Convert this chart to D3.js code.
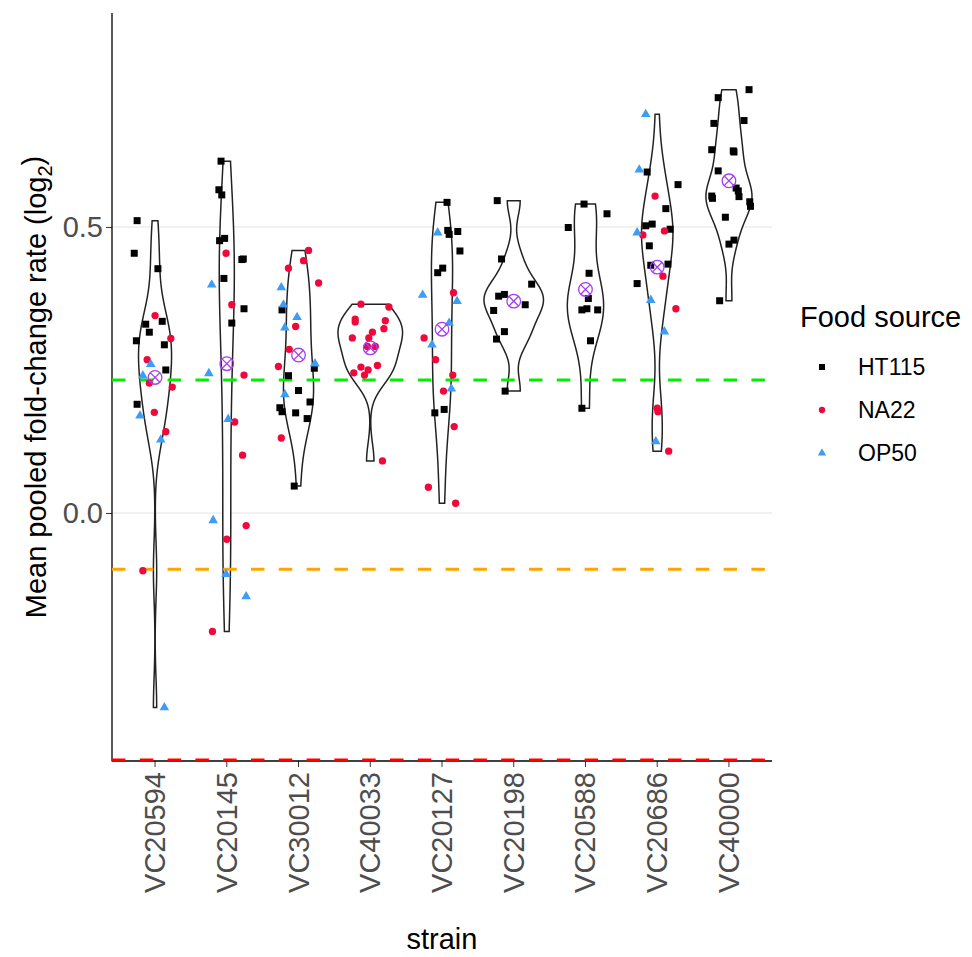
<!DOCTYPE html>
<html>
<head>
<meta charset="utf-8">
<script src="https://cdn.jsdelivr.net/npm/d3@7"></script>
<style>
  body { margin: 0; background: #fff; }
  svg { font-family: "Liberation Sans", Arial, sans-serif; }
</style>
</head>
<body>
<svg id="chart" width="972" height="957"></svg>
<script>
// strains in plotting order
var strains = ["VC20594", "VC20145", "VC30012", "VC40033", "VC20127",
               "VC20198", "VC20588", "VC20686", "VC40000"];
var foods = ["HT115", "NA22", "OP50"];

// [strain, log2 fold-change, horizontal jitter (fraction of band)]
var ht115Obs = [
  ["VC20594", 0.511, -0.25], ["VC20594", 0.454, -0.29], ["VC20594", 0.427, 0.04], ["VC20594", 0.330, -0.13],
  ["VC20594", 0.335, 0.10], ["VC20594", 0.316, -0.08], ["VC20594", 0.301, -0.26], ["VC20594", 0.294, 0.13],
  ["VC20594", 0.250, 0.15], ["VC20594", 0.190, -0.25],
  ["VC20145", 0.615, -0.08], ["VC20145", 0.565, -0.11], ["VC20145", 0.556, -0.07], ["VC20145", 0.476, -0.10],
  ["VC20145", 0.480, -0.03], ["VC20145", 0.443, 0.21], ["VC20145", 0.444, 0.23], ["VC20145", 0.410, -0.04],
  ["VC20145", 0.357, 0.24], ["VC20145", 0.332, 0.07],
  ["VC30012", 0.355, -0.23], ["VC30012", 0.253, 0.22], ["VC30012", 0.240, -0.14], ["VC30012", 0.214, 0.00],
  ["VC30012", 0.194, 0.16], ["VC30012", 0.184, -0.26], ["VC30012", 0.177, -0.23], ["VC30012", 0.175, -0.04],
  ["VC30012", 0.165, 0.12], ["VC30012", 0.047, -0.06],
  ["VC20127", 0.543, 0.07], ["VC20127", 0.494, 0.08], ["VC20127", 0.487, 0.10], ["VC20127", 0.492, 0.22],
  ["VC20127", 0.458, 0.25], ["VC20127", 0.428, 0.01], ["VC20127", 0.420, -0.06], ["VC20127", 0.181, 0.03],
  ["VC20127", 0.175, -0.10],
  ["VC20198", 0.546, -0.23], ["VC20198", 0.444, -0.17], ["VC20198", 0.400, 0.25], ["VC20198", 0.379, -0.21],
  ["VC20198", 0.382, -0.13], ["VC20198", 0.364, 0.16], ["VC20198", 0.354, -0.28], ["VC20198", 0.317, -0.13],
  ["VC20198", 0.304, -0.24], ["VC20198", 0.213, -0.12],
  ["VC20588", 0.540, -0.02], ["VC20588", 0.523, 0.30], ["VC20588", 0.499, -0.24], ["VC20588", 0.419, 0.05],
  ["VC20588", 0.375, 0.04], ["VC20588", 0.355, -0.05], ["VC20588", 0.357, 0.02], ["VC20588", 0.355, 0.17],
  ["VC20588", 0.301, 0.07], ["VC20588", 0.183, -0.05],
  ["VC20686", 0.596, -0.14], ["VC20686", 0.574, 0.29], ["VC20686", 0.532, 0.12], ["VC20686", 0.502, -0.16],
  ["VC20686", 0.505, -0.07], ["VC20686", 0.496, 0.18], ["VC20686", 0.467, -0.11], ["VC20686", 0.433, -0.09],
  ["VC20686", 0.435, 0.15], ["VC20686", 0.401, -0.28],
  ["VC40000", 0.740, 0.28], ["VC40000", 0.726, -0.15], ["VC40000", 0.686, 0.21], ["VC40000", 0.681, -0.21],
  ["VC40000", 0.635, -0.24], ["VC40000", 0.633, 0.06], ["VC40000", 0.631, 0.07], ["VC40000", 0.598, -0.15],
  ["VC40000", 0.568, 0.10], ["VC40000", 0.563, 0.13], ["VC40000", 0.553, 0.14], ["VC40000", 0.554, -0.24],
  ["VC40000", 0.550, -0.23], ["VC40000", 0.544, 0.29], ["VC40000", 0.536, 0.30], ["VC40000", 0.517, -0.05],
  ["VC40000", 0.470, 0.00], ["VC40000", 0.477, 0.07], ["VC40000", 0.371, -0.13]
];

var na22Obs = [
  ["VC20594", 0.345, 0.00], ["VC20594", 0.305, 0.22], ["VC20594", 0.268, -0.11], ["VC20594", 0.227, -0.08],
  ["VC20594", 0.220, 0.24], ["VC20594", 0.176, -0.01], ["VC20594", 0.142, 0.15], ["VC20594", -0.101, -0.17],
  ["VC20145", 0.454, -0.01], ["VC20145", 0.364, 0.07], ["VC20145", 0.241, 0.24], ["VC20145", 0.159, 0.11],
  ["VC20145", 0.101, 0.22], ["VC20145", -0.022, 0.27], ["VC20145", -0.046, 0.00], ["VC20145", -0.207, -0.20],
  ["VC30012", 0.459, 0.14], ["VC30012", 0.441, 0.07], ["VC30012", 0.428, -0.14], ["VC30012", 0.402, 0.28],
  ["VC30012", 0.326, -0.04], ["VC30012", 0.286, -0.13], ["VC30012", 0.256, -0.28], ["VC30012", 0.131, -0.24],
  ["VC40033", 0.365, -0.13], ["VC40033", 0.360, 0.26], ["VC40033", 0.339, -0.21], ["VC40033", 0.334, -0.21],
  ["VC40033", 0.336, 0.21], ["VC40033", 0.322, 0.19], ["VC40033", 0.316, 0.03], ["VC40033", 0.306, -0.02],
  ["VC40033", 0.306, -0.25], ["VC40033", 0.291, -0.04], ["VC40033", 0.291, 0.07], ["VC40033", 0.255, -0.13],
  ["VC40033", 0.258, 0.10], ["VC40033", 0.250, -0.03], ["VC40033", 0.245, -0.23], ["VC40033", 0.241, -0.08],
  ["VC40033", 0.091, 0.17],
  ["VC20127", 0.385, 0.16], ["VC20127", 0.306, -0.25], ["VC20127", 0.268, -0.09], ["VC20127", 0.241, 0.15],
  ["VC20127", 0.213, 0.02], ["VC20127", 0.151, 0.17], ["VC20127", 0.045, -0.19], ["VC20127", 0.017, 0.19],
  ["VC20686", 0.554, -0.03], ["VC20686", 0.486, -0.20], ["VC20686", 0.493, 0.10], ["VC20686", 0.414, 0.08],
  ["VC20686", 0.357, 0.26], ["VC20686", 0.183, 0.00], ["VC20686", 0.177, 0.01], ["VC20686", 0.108, 0.16]
];

var op50Obs = [
  ["VC20594", 0.260, -0.06], ["VC20594", 0.240, -0.17], ["VC20594", 0.170, -0.21], ["VC20594", 0.128, 0.08],
  ["VC20594", -0.340, 0.13],
  ["VC20145", 0.399, -0.21], ["VC20145", 0.244, -0.25], ["VC20145", 0.164, 0.02], ["VC20145", -0.013, -0.19],
  ["VC20145", -0.107, -0.01], ["VC20145", -0.146, 0.27],
  ["VC30012", 0.394, -0.24], ["VC30012", 0.364, -0.21], ["VC30012", 0.342, -0.02], ["VC30012", 0.324, -0.19],
  ["VC30012", 0.261, 0.23], ["VC30012", 0.207, -0.19],
  ["VC20127", 0.490, -0.06], ["VC20127", 0.381, -0.27], ["VC20127", 0.370, 0.21], ["VC20127", 0.332, 0.10],
  ["VC20127", 0.294, -0.14], ["VC20127", 0.217, 0.13],
  ["VC20686", 0.697, -0.16], ["VC20686", 0.600, -0.25], ["VC20686", 0.490, -0.28], ["VC20686", 0.372, -0.09],
  ["VC20686", 0.317, 0.10], ["VC20686", 0.125, -0.02]
];

// dashed reference lines (green, orange, red)
var refLines = [0.2325, -0.0985, -0.432];
var yTicks = [0.0, 0.5];
var yLimits = [-0.4336, 0.874];

var refColors = ["#00EE00", "#FFA500", "#FF0000"];
var foodColor = { "HT115": "#000000", "NA22": "#F0073B", "OP50": "#3D9CF5" };
var foodShape = { "HT115": d3.symbolSquare, "NA22": d3.symbolCircle, "OP50": d3.symbolTriangle };
var foodSize = { "HT115": 49, "NA22": 42, "OP50": 40 };

var obs = [];
[[ht115Obs, "HT115"], [na22Obs, "NA22"], [op50Obs, "OP50"]].forEach(function (p) {
    p[0].forEach(function (r) { obs.push({ strain: r[0], food: p[1], value: r[1], jit: r[2] }); });
});

var svg = d3.select("#chart");
var pLeft = 112, pRight = 772, pTop = 13, pBottom = 761;

var x = d3.scaleBand().domain(strains).range([pLeft, pRight]).paddingInner(0).paddingOuter(0.1);
var y = d3.scaleLinear().domain(yLimits).range([pBottom, pTop]);
var cx = function (s) { return x(s) + x.bandwidth() / 2; };

// grid
svg.append("g").selectAll("line").data(yTicks).enter().append("line")
    .attr("x1", pLeft).attr("x2", pRight)
    .attr("y1", function (d) { return y(d); }).attr("y2", function (d) { return y(d); })
    .attr("stroke", "#e3e3e3").attr("stroke-width", 1.1);

// violins: gaussian kde, bw.nrd0, trimmed, scale = "area"
function bwNrd0(v) {
    var s = v.slice().sort(d3.ascending);
    var sd = d3.deviation(s);
    var iqr = d3.quantileSorted(s, 0.75) - d3.quantileSorted(s, 0.25);
    var lo = Math.min(sd, iqr / 1.34);
    if (!lo) lo = sd || Math.abs(s[0]) || 1;
    return 0.9 * lo * Math.pow(s.length, -0.2);
}

var violins = strains.map(function (s) {
    var v = obs.filter(function (d) { return d.strain == s; }).map(function (d) { return d.value; });
    var bw = bwNrd0(v);
    var lo = d3.min(v), hi = d3.max(v);
    var pts = d3.range(512).map(function (i) {
        var t = lo + (hi - lo) * i / 511;
        var dens = d3.mean(v, function (xi) {
            var u = (t - xi) / bw;
            return Math.exp(-0.5 * u * u) / Math.sqrt(2 * Math.PI);
        }) / bw;
        return { t: t, d: dens };
    });
    return { strain: s, pts: pts, mean: d3.mean(v) };
});

var maxD = d3.max(violins, function (v) { return d3.max(v.pts, function (p) { return p.d; }); });
var wScale = 0.45 * x.bandwidth() / maxD;

var line = d3.line().x(function (p) { return p[0]; }).y(function (p) { return p[1]; });

svg.append("g").selectAll("path").data(violins).enter().append("path")
    .attr("d", function (v) {
        var c = cx(v.strain);
        var rightSide = v.pts.map(function (p) { return [c + p.d * wScale, y(p.t)]; });
        var leftSide = v.pts.slice().reverse().map(function (p) { return [c - p.d * wScale, y(p.t)]; });
        return line(rightSide.concat(leftSide)) + "Z";
    })
    .attr("fill", "#fff").attr("stroke", "#222").attr("stroke-width", 1.5);

// axis lines + ticks
var yAxis = svg.append("g").attr("transform", "translate(" + pLeft + ",0)")
    .call(d3.axisLeft(y).tickValues(yTicks).tickFormat(d3.format(".1f")).tickSize(6).tickPadding(3));
yAxis.select(".domain").remove();
yAxis.selectAll(".tick line").attr("stroke", "#333");
yAxis.selectAll(".tick text").attr("fill", "#4d4d4d").style("font-size", "29px")
    .style("font-family", "Liberation Sans, Arial, sans-serif");

var xAxis = svg.append("g").attr("transform", "translate(0," + pBottom + ")")
    .call(d3.axisBottom(x).tickSize(6).tickFormat(""));
xAxis.select(".domain").remove();
xAxis.selectAll(".tick line").attr("stroke", "#333");

svg.append("line").attr("x1", pLeft).attr("x2", pLeft).attr("y1", pTop).attr("y2", pBottom + 0.6)
    .attr("stroke", "#000").attr("stroke-width", 1.3);
svg.append("line").attr("x1", pLeft).attr("x2", pRight).attr("y1", pBottom).attr("y2", pBottom)
    .attr("stroke", "#000").attr("stroke-width", 1.3);

// reference lines
svg.append("g").selectAll("line").data(refLines).enter().append("line")
    .attr("x1", pLeft).attr("x2", pRight)
    .attr("y1", function (d) { return y(d); }).attr("y2", function (d) { return y(d); })
    .attr("stroke", function (d, i) { return refColors[i]; })
    .attr("stroke-width", 3)
    .attr("stroke-dasharray", "13.5,14.3");

// points
svg.append("g").selectAll("path").data(obs).enter().append("path")
    .attr("transform", function (d) {
        return "translate(" + (cx(d.strain) + d.jit * x.bandwidth()) + "," + y(d.value) + ")";
    })
    .attr("d", function (d) { return d3.symbol().type(foodShape[d.food]).size(foodSize[d.food])(); })
    .attr("fill", function (d) { return foodColor[d.food]; });

// mean markers (circle with cross)
var mg = svg.append("g").selectAll("g").data(violins).enter().append("g")
    .attr("transform", function (v) { return "translate(" + cx(v.strain) + "," + y(v.mean) + ")"; })
    .attr("stroke", "#A43EF2").attr("stroke-width", 1.3).attr("fill", "none");
var r = 6.8, k = r * Math.SQRT1_2;
mg.append("circle").attr("r", r);
mg.append("path").attr("d", "M" + (-k) + "," + (-k) + "L" + k + "," + k + "M" + (-k) + "," + k + "L" + k + "," + (-k));

// x tick labels
svg.append("g").selectAll("text").data(strains).enter().append("text")
    .attr("transform", function (s) { return "translate(" + (cx(s) + 10) + "," + (pBottom + 11) + ") rotate(-90)"; })
    .attr("text-anchor", "end")
    .attr("fill", "#4d4d4d").style("font-size", "29px")
    .text(function (s) { return s; });

// axis titles
svg.append("text").attr("x", (pLeft + pRight) / 2).attr("y", 949)
    .attr("text-anchor", "middle").style("font-size", "29px").attr("fill", "#000").text("strain");

var yt = svg.append("text")
    .attr("transform", "translate(46," + ((pTop + pBottom) / 2) + ") rotate(-90)")
    .attr("text-anchor", "middle").style("font-size", "29px").attr("fill", "#000");
yt.append("tspan").text("Mean pooled fold-change rate (log");
yt.append("tspan").attr("dy", "0.3em").style("font-size", "20px").text("2");
yt.append("tspan").attr("dy", "-0.3em").text(")");

// legend
var lg = svg.append("g");
lg.append("text").attr("x", 800).attr("y", 327).style("font-size", "29px").attr("fill", "#000").text("Food source");
var li = lg.selectAll("g.item").data(foods).enter().append("g").attr("class", "item")
    .attr("transform", function (f, i) { return "translate(0," + (367 + i * 43) + ")"; });
li.append("path")
    .attr("transform", "translate(822,0)")
    .attr("d", function (f) { return d3.symbol().type(foodShape[f]).size(foodSize[f] * 0.75)(); })
    .attr("fill", function (f) { return foodColor[f]; });
li.append("text").attr("x", 858).attr("dy", "0.36em")
    .style("font-size", "23px").attr("fill", "#000")
    .text(function (f) { return f; });
</script>
</body>
</html>
